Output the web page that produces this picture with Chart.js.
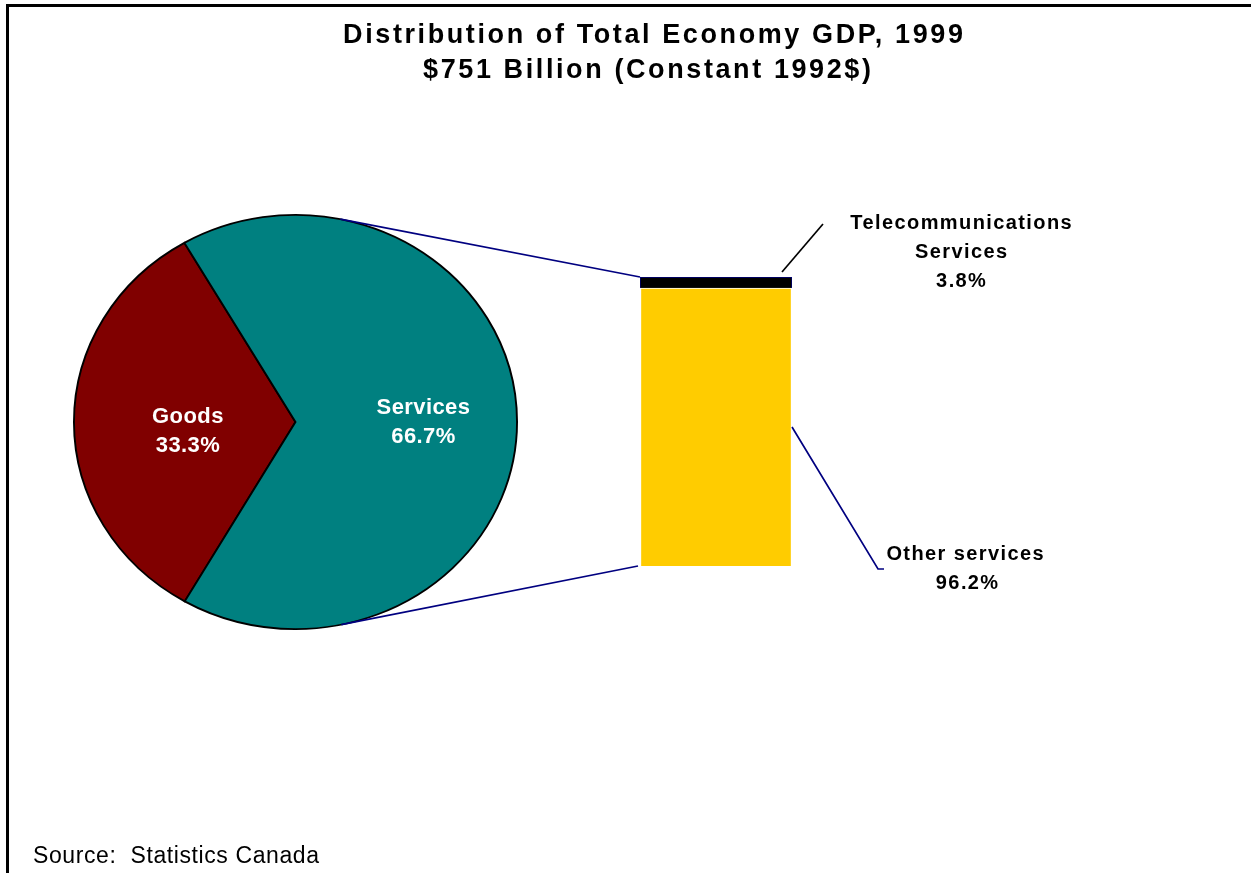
<!DOCTYPE html>
<html>
<head>
<meta charset="utf-8">
<title>Distribution of Total Economy GDP, 1999</title>
<script src="https://cdn.jsdelivr.net/npm/chart.js@4.4.1/dist/chart.umd.min.js"></script>
<style>
  html, body { margin: 0; padding: 0; background: #ffffff; }
  #wrap { position: relative; width: 1251px; height: 873px; overflow: hidden; background: #ffffff; }
  #wrap canvas { position: absolute; left: 0; top: 0; }
</style>
</head>
<body>
<div id="wrap">
  <canvas id="pieCanvas" width="1251" height="873"></canvas>
  <canvas id="barCanvas" width="1251" height="873"></canvas>
</div>
<script>
// ---- data ----
const titleLines = ['Distribution of Total Economy GDP, 1999', '$751 Billion (Constant 1992$)'];
const pieLabels = ['Goods', 'Services'];
const pieValues = [33.3, 66.7];
const pieColors = ['#800000', '#008080'];
const barCategory = ['Services'];
const barLabels = ['Other services', 'Telecommunications Services'];
const barValues = [96.2, 3.8];
const barColors = ['#FFCC00', '#000000'];
const sourceNote = 'Source:  Statistics Canada';

// ---- layout ----
const W = 1251, H = 873;
const PIE = { cx: 295.5, cy: 422, r: 208, stretch: 222.5 / 208 };
const BAR = { left: 640, right: 792, top: 277, bottom: 566 };
const NAVY = '#000080';
const FONT = '"Liberation Sans", Arial, Helvetica, sans-serif';

function pct(v) { return v.toFixed(1) + '%'; }

// draw text with letter spacing, compensating the trailing gap when centred
function spacedText(ctx, text, x, y, font, spacing, align) {
  ctx.save();
  ctx.font = font;
  ctx.letterSpacing = spacing + 'px';
  ctx.textAlign = align || 'center';
  ctx.textBaseline = 'alphabetic';
  const shift = (align === 'left') ? 0 : spacing / 2;
  ctx.fillText(text, x + shift, y);
  ctx.restore();
}

// stretch the pie horizontally into an ellipse
const ellipsePlugin = {
  id: 'ellipse',
  beforeDatasetsDraw(chart) {
    const arc = chart.getDatasetMeta(0).data[0];
    const ctx = chart.ctx;
    ctx.save();
    ctx.translate(arc.x, arc.y);
    ctx.scale(PIE.stretch, 1);
    ctx.translate(-arc.x, -arc.y);
  },
  afterDatasetsDraw(chart) {
    chart.ctx.restore();
  }
};

// slice labels, inside each wedge
const pieLabelOffsets = [{ dx: 3, dy: 8 }, { dx: 17, dy: -1 }];
const pieLabelPlugin = {
  id: 'pieLabels',
  afterDatasetsDraw(chart) {
    const ctx = chart.ctx;
    const meta = chart.getDatasetMeta(0);
    ctx.save();
    ctx.fillStyle = '#ffffff';
    meta.data.forEach((arc, i) => {
      const tp = arc.tooltipPosition();
      const x = arc.x + (tp.x - arc.x) * PIE.stretch + pieLabelOffsets[i].dx;
      const y = tp.y + pieLabelOffsets[i].dy;
      const f = 'bold 22px ' + FONT;
      spacedText(ctx, pieLabels[i], x, y - 7, f, 0.4);
      spacedText(ctx, pct(pieValues[i]), x, y + 22, f, 0.4);
    });
    ctx.restore();
  }
};

const pieChart = new Chart(document.getElementById('pieCanvas'), {
  type: 'pie',
  data: {
    labels: pieLabels,
    datasets: [{
      data: pieValues,
      backgroundColor: pieColors,
      borderColor: '#000000',
      borderWidth: 1.8,
      borderJoinStyle: 'miter'
    }]
  },
  options: {
    responsive: false,
    animation: false,
    events: [],
    rotation: 210,
    layout: {
      padding: {
        left: PIE.cx - PIE.r,
        right: W - (PIE.cx + PIE.r),
        top: PIE.cy - PIE.r,
        bottom: H - (PIE.cy + PIE.r)
      }
    },
    plugins: { legend: { display: false }, tooltip: { enabled: false } }
  },
  plugins: [ellipsePlugin, pieLabelPlugin]
});

// tangent point on the ellipse seen from an outside point
function ellipseTangent(arc, px, py, upper) {
  const rx = arc.outerRadius * PIE.stretch, ry = arc.outerRadius;
  const u = (px - arc.x) / rx, v = (py - arc.y) / ry;
  const d = Math.hypot(u, v);
  const base = Math.atan2(v, u);
  const off = Math.acos(1 / d);
  const phi = upper ? base - off : base + off;
  return { x: arc.x + rx * Math.cos(phi), y: arc.y + ry * Math.sin(phi) };
}

function line(ctx, pts, color, width) {
  ctx.save();
  ctx.strokeStyle = color;
  ctx.lineWidth = width;
  ctx.lineJoin = 'miter';
  ctx.beginPath();
  pts.forEach((p, i) => i ? ctx.lineTo(p[0], p[1]) : ctx.moveTo(p[0], p[1]));
  ctx.stroke();
  ctx.restore();
}

// titles, frame, connectors, callouts and source note
const decorPlugin = {
  id: 'decor',
  afterDraw(chart) {
    const ctx = chart.ctx;
    ctx.save();
    ctx.fillStyle = '#000000';

    // titles
    const tf = 'bold 27px ' + FONT;
    spacedText(ctx, titleLines[0], 653, 43, tf, 2.6);
    spacedText(ctx, titleLines[1], 647, 78, tf, 2.6);

    // connectors from the services wedge to the bar
    const arc = pieChart.getDatasetMeta(0).data[1];
    const other = chart.getDatasetMeta(0).data[0];
    const tele = chart.getDatasetMeta(1).data[0];
    const barLeft = other.x - other.width / 2;
    const barRight = other.x + other.width / 2;
    const tTop = ellipseTangent(arc, barLeft, tele.y, true);
    const tBot = ellipseTangent(arc, barLeft - 2, other.base, false);
    line(ctx, [[tTop.x, tTop.y], [barLeft, tele.y]], NAVY, 1.7);
    line(ctx, [[tBot.x, tBot.y], [barLeft - 2, other.base]], NAVY, 1.7);

    // callout for telecommunications
    line(ctx, [[barRight - 10, tele.y - 5], [823, 224]], '#000000', 1.7);
    const lf = 'bold 20px ' + FONT;
    spacedText(ctx, 'Telecommunications', 961, 229, lf, 1.4);
    spacedText(ctx, 'Services', 961, 258, lf, 1.4);
    spacedText(ctx, pct(barValues[1]), 961, 287, lf, 1.4);

    // callout for other services
    const midY = (other.y + other.base) / 2;
    line(ctx, [[barRight, midY], [878, 569], [884, 569]], NAVY, 1.7);
    spacedText(ctx, barLabels[0], 965, 560, lf, 1.4);
    spacedText(ctx, pct(barValues[0]), 967, 589, lf, 1.4);

    // frame
    line(ctx, [[7.5, H], [7.5, 5.5], [W, 5.5]], '#000000', 3);

    // source
    ctx.fillStyle = '#000000';
    spacedText(ctx, sourceNote, 33, 863, '23px ' + FONT, 0.6, 'left');
    ctx.restore();
  }
};

const barChart = new Chart(document.getElementById('barCanvas'), {
  type: 'bar',
  data: {
    labels: barCategory,
    datasets: [
      {
        label: barLabels[0],
        data: [barValues[0]],
        backgroundColor: barColors[0],
        borderColor: '#ffffff',
        borderWidth: { top: 1, left: 1.5, right: 1.5, bottom: 0 },
        borderSkipped: false
      },
      {
        label: barLabels[1],
        data: [barValues[1]],
        backgroundColor: barColors[1],
        borderColor: NAVY,
        borderWidth: { top: 1, left: 1, right: 1, bottom: 0 },
        borderSkipped: false
      }
    ]
  },
  options: {
    responsive: false,
    animation: false,
    events: [],
    layout: {
      padding: { left: BAR.left, right: W - BAR.right, top: BAR.top, bottom: H - BAR.bottom }
    },
    datasets: { bar: { categoryPercentage: 1, barPercentage: 1 } },
    scales: {
      x: { display: false, stacked: true },
      y: { display: false, stacked: true, min: 0, max: 100 }
    },
    plugins: { legend: { display: false }, tooltip: { enabled: false } }
  },
  plugins: [decorPlugin]
});
</script>
</body>
</html>
